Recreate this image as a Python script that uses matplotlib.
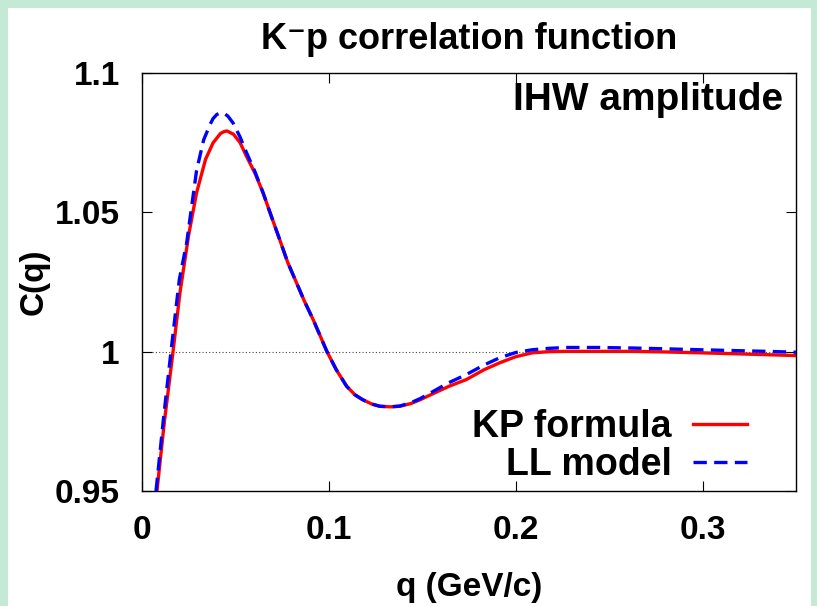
import matplotlib
matplotlib.use("Agg")
import matplotlib.pyplot as plt
from matplotlib.patches import Rectangle

# values
q_kp = [0.0080, 0.0120, 0.0166, 0.0203, 0.0250, 0.0292, 0.0340, 0.0380, 0.0420,
        0.0440, 0.0455, 0.0490, 0.0525, 0.0560, 0.0605, 0.0648, 0.0690, 0.0738, 0.0780,
        0.0827, 0.0870, 0.0916, 0.0990, 0.1040, 0.1095, 0.1140, 0.1180, 0.1230,
        0.1273, 0.1330, 0.1380, 0.1440, 0.1490, 0.1560, 0.1640, 0.1736, 0.1830,
        0.1914, 0.2000, 0.2090, 0.2180, 0.2270, 0.2450, 0.2626, 0.2800, 0.2980,
        0.3150, 0.3350, 0.3500]
c_kp = [0.9500, 0.9750, 1.0000, 1.0211, 1.0420, 1.0570, 1.0690, 1.0749, 1.0783,
        1.0790, 1.0792, 1.0780, 1.0750, 1.0700, 1.0640, 1.0570, 1.0490, 1.0400, 1.0320,
        1.0247, 1.0180, 1.0115, 1.0000, 0.9935, 0.9876, 0.9845, 0.9828, 0.9812,
        0.9804, 0.9802, 0.9804, 0.9814, 0.9828, 0.9850, 0.9875, 0.9900, 0.9935,
        0.9960, 0.9982, 0.9996, 1.0000, 1.0001, 1.0001, 1.0001, 0.9999, 0.9996,
        0.9993, 0.9989, 0.9986]

q_ll = [0.0075, 0.0115, 0.0155, 0.0200, 0.0239, 0.0292, 0.0330, 0.0364, 0.0380,
        0.0400, 0.0420, 0.0440, 0.0460, 0.0488, 0.0525, 0.0560, 0.0605, 0.0648,
        0.0690, 0.0738, 0.0780, 0.0827, 0.0870, 0.0916, 0.0990, 0.1040, 0.1095,
        0.1140, 0.1180, 0.1230, 0.1273, 0.1330, 0.1380, 0.1440, 0.1490, 0.1560,
        0.1640, 0.1736, 0.1830, 0.1914, 0.2000, 0.2090, 0.2180, 0.2270, 0.2450,
        0.2630, 0.2810, 0.2980, 0.3160, 0.3350, 0.3500]
c_ll = [0.9500, 0.9760, 1.0000, 1.0260, 1.0390, 1.0650, 1.0760, 1.0815, 1.0836,
        1.0851, 1.0857, 1.0855, 1.0845, 1.0820, 1.0770, 1.0713, 1.0645, 1.0570,
        1.0490, 1.0400, 1.0320, 1.0247, 1.0180, 1.0115, 1.0000, 0.9935, 0.9876,
        0.9845, 0.9828, 0.9812, 0.9804, 0.9802, 0.9805, 0.9817, 0.9832, 0.9858,
        0.9888, 0.9918, 0.9952, 0.9978, 0.9997, 1.0007, 1.0012, 1.0015, 1.0015,
        1.0013, 1.0010, 1.0007, 1.0004, 1.0001, 0.9998]

x_ticks = [0, 0.1, 0.2, 0.3]
x_labels = ["0", "0.1", "0.2", "0.3"]
y_ticks = [0.95, 1.0, 1.05, 1.1]
y_labels = ["0.95", "1", "1.05", "1.1"]

plt.rcParams['font.family'] = ['Liberation Sans', 'DejaVu Sans']
plt.rcParams['font.weight'] = 'bold'

fig = plt.figure(figsize=(8.17, 6.06), dpi=100)
fig.patch.set_facecolor('#c4e9d5')
# white panel inside the green frame
fig.patches.append(Rectangle((8 / 817, 0), (811 - 8) / 817, 1 - 8 / 606,
                             transform=fig.transFigure, facecolor='white',
                             edgecolor='none', zorder=-10))

ax = fig.add_axes([142 / 817, 1 - 491 / 606, (796 - 142) / 817, (491 - 73) / 606])
ax.set_facecolor('white')

ax.axhline(1.0, color='#444444', lw=0.8, ls=(0, (1, 2)), zorder=1)
ax.plot(q_kp, c_kp, color='#ff0000', lw=2.4, label='KP formula', zorder=2)
ax.plot(q_ll, c_ll, color='#0000ff', lw=2.4, dashes=(4, 2.2), label='LL model', zorder=3)

ax.set_xlim(0, 0.35)
ax.set_ylim(0.95, 1.1)
ax.set_xticks(x_ticks)
ax.set_xticklabels(x_labels)
ax.set_yticks(y_ticks)
ax.set_yticklabels(y_labels)
ax.tick_params(direction='in', length=7, width=0.8, top=True, right=True, labelsize=24)
ax.tick_params(axis='y', pad=16)
ax.tick_params(axis='x', pad=17)
for s in ax.spines.values():
    s.set_linewidth(1.0)

ax.set_xlabel('q (GeV/c)', fontsize=24, fontweight='bold', labelpad=19)
ax.set_ylabel('C(q)', fontsize=24, fontweight='bold', labelpad=4)
ax.set_title('K\u207bp correlation function', fontsize=26, fontweight='bold', pad=17)

ax.text(0.98, 0.935, 'IHW amplitude', transform=ax.transAxes, ha='right', va='center',
        fontsize=28, fontweight='bold')

leg = ax.legend(loc='lower right', bbox_to_anchor=(0.925, 0.02), frameon=False,
                markerfirst=False, fontsize=27, handlelength=1.45, handletextpad=0.55,
                labelspacing=0.05, borderpad=0, borderaxespad=0)
for t in leg.get_texts():
    t.set_fontweight('bold')

fig.savefig('out.png', dpi=100, facecolor=fig.get_facecolor())
